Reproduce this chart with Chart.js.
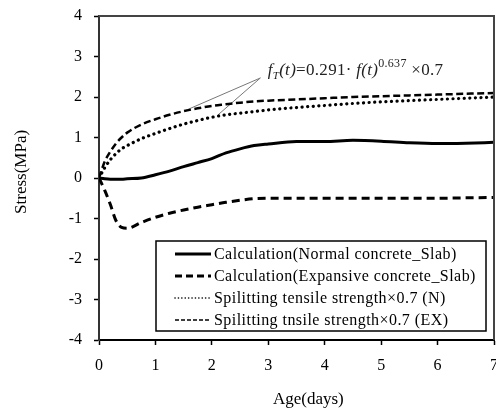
<!DOCTYPE html>
<html>
<head>
<meta charset="utf-8">
<script src="https://cdn.jsdelivr.net/npm/chart.js"></script>
<style>
  html, body { margin: 0; padding: 0; background: #fff; overflow: hidden; }
  #wrap { width: 496px; height: 412px; }
</style>
</head>
<body>
<div id="wrap"><canvas id="stress-chart"></canvas></div>
<script>
// ages in days (shared by all four series)
const ages = [0, 0.1, 0.2, 0.3, 0.4, 0.5, 0.75, 1, 1.25, 1.5, 1.75, 2, 2.25, 2.5, 2.75, 3, 3.5, 4, 4.5, 5, 5.5, 6, 6.5, 7];
const calcNormal = [0, -0.02, -0.03, -0.03, -0.03, -0.02, 0, 0.08, 0.17, 0.28, 0.38, 0.48, 0.62, 0.72, 0.8, 0.84, 0.9, 0.9, 0.93, 0.91, 0.87, 0.85, 0.86, 0.88];
const calcExpansive = [0, -0.3, -0.65, -1.05, -1.22, -1.24, -1.1, -0.97, -0.87, -0.79, -0.72, -0.66, -0.6, -0.55, -0.51, -0.5, -0.5, -0.5, -0.5, -0.5, -0.5, -0.5, -0.49, -0.48];
const splitN = [0, 0.25, 0.45, 0.6, 0.72, 0.8, 0.97, 1.1, 1.22, 1.33, 1.42, 1.5, 1.56, 1.6, 1.64, 1.68, 1.74, 1.79, 1.84, 1.88, 1.91, 1.94, 1.97, 2.0];
const splitEX = [0, 0.4, 0.65, 0.85, 1.0, 1.12, 1.32, 1.45, 1.56, 1.65, 1.72, 1.78, 1.82, 1.86, 1.89, 1.91, 1.94, 1.97, 2.0, 2.02, 2.04, 2.06, 2.08, 2.1];
const seriesNames = [
  'Calculation(Normal concrete_Slab)',
  'Calculation(Expansive concrete_Slab)',
  'Spilitting tensile strength\u00d70.7 (N)',
  'Spilitting tnsile strength\u00d70.7 (EX)'
];
// leader lines from the formula label to the two strength curves
const leaderApex = [2.86, 2.47];
const leaderEnds = [[1.52, 1.66], [2.11, 1.56]];
const xTicks = [0, 1, 2, 3, 4, 5, 6, 7];
const yTicks = [-4, -3, -2, -1, 0, 1, 2, 3, 4];

const SERIF = '"Liberation Serif", "Times New Roman", serif';

function pts(ys) {
  return ages.map((a, i) => ({ x: a, y: ys[i] }));
}

const datasets = [
  { label: seriesNames[0], data: pts(calcNormal), borderColor: '#000', borderWidth: 3, borderDash: [],
    legendDash: [], legendWidth: 3, legendCap: 'butt' },
  { label: seriesNames[1], data: pts(calcExpansive), borderColor: '#000', borderWidth: 3, borderDash: [8, 5],
    legendDash: [7, 4], legendWidth: 3, legendCap: 'butt' },
  { label: seriesNames[2], data: pts(splitN), borderColor: '#000', borderWidth: 3.2, borderDash: [0.1, 5.5],
    borderCapStyle: 'round', legendDash: [0.1, 3.3], legendWidth: 1.6, legendCap: 'round' },
  { label: seriesNames[3], data: pts(splitEX), borderColor: '#000', borderWidth: 2.5, borderDash: [7, 3.5],
    legendDash: [4, 2], legendWidth: 1.5, legendCap: 'butt' }
];
leaderEnds.forEach(function(e) {
  datasets.push({
    label: '', data: [{ x: leaderApex[0], y: leaderApex[1] }, { x: e[0], y: e[1] }],
    borderColor: '#777', borderWidth: 1, leader: true, cubicInterpolationMode: 'default', tension: 0
  });
});
datasets.forEach(function(d) {
  d.pointRadius = 0;
  d.fill = false;
  if (!d.leader) d.cubicInterpolationMode = 'monotone';
});

const decorations = {
  id: 'decorations',
  afterDraw(chart) {
    const ctx = chart.ctx;
    const a = chart.chartArea;
    const xs = chart.scales.x, ys = chart.scales.y;
    ctx.save();
    // top and right frame
    ctx.strokeStyle = '#444';
    ctx.lineWidth = 2;
    ctx.beginPath();
    ctx.moveTo(a.left, a.top);
    ctx.lineTo(a.right, a.top);
    ctx.lineTo(a.right, a.bottom);
    ctx.stroke();

    // legend box
    const bx = 156, by = 241, bw = 330, bh = 90;
    ctx.fillStyle = '#fff';
    ctx.fillRect(bx, by, bw, bh);
    ctx.strokeStyle = '#000';
    ctx.lineWidth = 1.5;
    ctx.strokeRect(bx, by, bw, bh);
    ctx.font = '16px ' + SERIF;
    ctx.letterSpacing = '0.45px';
    ctx.textBaseline = 'middle';
    ctx.textAlign = 'left';
    chart.data.datasets.filter(d => !d.leader).forEach(function(d, i) {
      const ry = by + 13 + i * 22;
      ctx.strokeStyle = '#000';
      ctx.lineWidth = d.legendWidth;
      ctx.lineCap = d.legendCap;
      ctx.setLineDash(d.legendDash);
      ctx.beginPath();
      ctx.moveTo(175, ry);
      ctx.lineTo(211, ry);
      ctx.stroke();
      ctx.setLineDash([]);
      ctx.fillStyle = '#000';
      ctx.fillText(d.label, 214, ry + 1);
    });

    // formula label
    ctx.letterSpacing = '0.3px';
    let tx = xs.getPixelForValue(2.99);
    const base = ys.getPixelForValue(2.55);
    ctx.textBaseline = 'alphabetic';
    ctx.fillStyle = '#222';
    const parts = [
      ['italic 17px', 'f', 0], ['italic 11px', 'T', 4], ['italic 17px', '(t)', 0],
      ['17px', '=0.291\u00b7 ', 0], ['italic 17px', 'f(t)', 0], ['12px', '0.637', -8],
      ['17px', ' \u00d70.7', 0]
    ];
    parts.forEach(function(p) {
      ctx.font = p[0] + ' ' + SERIF;
      ctx.fillText(p[1], tx, base + p[2]);
      tx += ctx.measureText(p[1]).width;
    });
    ctx.letterSpacing = '0px';

    // axis titles
    ctx.fillStyle = '#000';
    ctx.font = '17px ' + SERIF;
    ctx.textAlign = 'center';
    ctx.textBaseline = 'middle';
    ctx.fillText('Age(days)', xs.getPixelForValue(3.71), 400);
    ctx.translate(22, ys.getPixelForValue(0.15));
    ctx.rotate(-Math.PI / 2);
    ctx.fillText('Stress(MPa)', 0, 0);
    ctx.restore();
  }
};

new Chart(document.getElementById('stress-chart'), {
  type: 'line',
  data: { datasets: datasets },
  options: {
    responsive: true,
    maintainAspectRatio: false,
    animation: false,
    events: [],
    layout: { padding: { top: 16, right: 2, left: 0, bottom: 0 } },
    plugins: { legend: { display: false }, tooltip: { enabled: false } },
    scales: {
      x: {
        type: 'linear', min: 0, max: 7,
        afterBuildTicks: s => { s.ticks = xTicks.map(v => ({ value: v })); },
        afterFit: s => { s.height = 72; s.paddingRight = 0; s.paddingLeft = 0; },
        grid: { drawOnChartArea: false, drawTicks: true, tickLength: 5, tickColor: '#000', tickWidth: 1.5 },
        border: { color: '#000', width: 2 },
        ticks: { color: '#000', padding: 11, maxRotation: 0, font: { family: SERIF, size: 16 } }
      },
      y: {
        type: 'linear', min: -4, max: 4,
        afterBuildTicks: s => { s.ticks = yTicks.map(v => ({ value: v })); },
        afterFit: s => { s.width = 99; s.paddingTop = 0; s.paddingBottom = 0; },
        grid: { drawOnChartArea: false, drawTicks: true, tickLength: 5, tickColor: '#000', tickWidth: 1.5 },
        border: { color: '#333', width: 2 },
        ticks: { color: '#000', padding: 12, font: { family: SERIF, size: 16 } }
      }
    }
  },
  plugins: [decorations]
});
</script>
</body>
</html>
